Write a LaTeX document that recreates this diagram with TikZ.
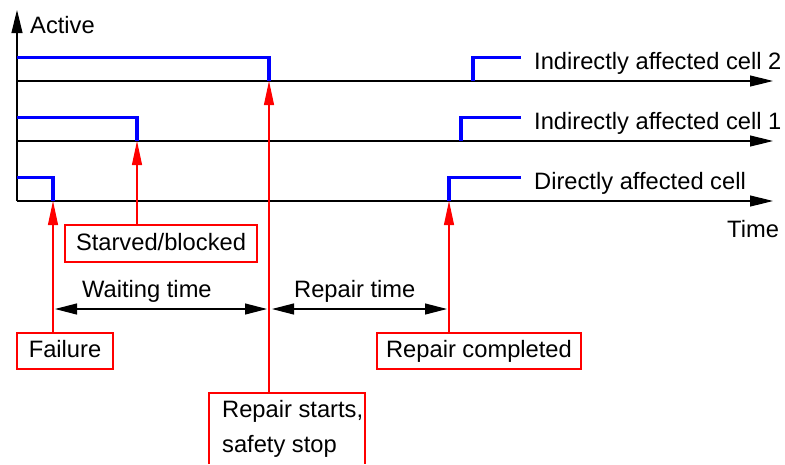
\documentclass[tikz,border=0pt]{standalone}
\usepackage{fontspec}
\setmainfont{Liberation Sans}
\usetikzlibrary{arrows.meta}
\begin{document}
\begin{tikzpicture}[x=1pt,y=-1pt,
  every node/.style={font=\fontsize{23.7}{28}\selectfont, inner sep=0pt},
  axis/.style={black, line width=1.1pt, -{Triangle[length=23pt,width=11pt]}},
  sig/.style={blue, line width=3.2pt, line join=miter},
  evt/.style={red, line width=1.1pt, -{Triangle[length=24pt,width=10pt]}},
  boxline/.style={draw=red, line width=1.3pt},
  redbox/.style={boxline, rectangle, inner sep=0pt, text height=17pt, text depth=4pt},
  dim/.style={black, line width=1.1pt, {Triangle[length=22pt,width=11pt]}-{Triangle[length=22pt,width=11pt]}},
  lbl/.style={anchor=base west}
]
\useasboundingbox (0,0) rectangle (785,464);

% axes
\coordinate (O) at (17,201);
\coordinate (Ytop) at (17,10);
\coordinate (a2s) at (17,81);  \coordinate (a2e) at (773,81);
\coordinate (a1s) at (17,141); \coordinate (a1e) at (773,141);
\coordinate (a0s) at (17,201); \coordinate (a0e) at (773,201);
\draw[axis] (O) -- (Ytop);
\draw[axis] (a2s) -- (a2e);
\draw[axis] (a1s) -- (a1e);
\draw[axis] (a0s) -- (a0e);

% event points
\coordinate (f) at (53,201);
\coordinate (sbk) at (137,141);
\coordinate (rs) at (269,81);
\coordinate (rc) at (449,201);
\coordinate (u1) at (461,141);
\coordinate (u2) at (473,81);
\coordinate (h2) at (17,57.5);
\coordinate (h1) at (17,117.5);
\coordinate (h0) at (17,177.5);
\coordinate (e2) at (521,57.5);
\coordinate (e1) at (521,117.5);
\coordinate (e0) at (521,177.5);

% signals
\draw[sig] (h2) -| (rs);
\draw[sig] (u2) |- (e2);
\draw[sig] (h1) -| (sbk);
\draw[sig] (u1) |- (e1);
\draw[sig] (h0) -| (f);
\draw[sig] (rc) |- (e0);

% labels
\node[lbl] (active) at (30,33) {Active};
\node[lbl] (l2) at (534,69) {Indirectly affected cell 2};
\node[lbl] (l1) at (534,129) {Indirectly affected cell 1};
\node[lbl] (l0) at (534,189) {Directly affected cell};
\node[lbl] (time) at (727,237) {Time};

% event boxes
\node[redbox, minimum width=192pt, minimum height=37pt] (sb) at (161,243.5) {Starved/blocked};
\node[redbox, minimum width=96pt, minimum height=36pt] (fb) at (65,351) {Failure};
\node[redbox, minimum width=204pt, minimum height=36pt] (rcb) at (479,351) {Repair completed};
\coordinate (rsbl) at (209,464);
\coordinate (rsbtl) at (209,393);
\coordinate (rsbtr) at (365,393);
\coordinate (rsbr) at (365,464);
\draw[boxline] (rsbl) -- (rsbtl) -- (rsbtr) -- (rsbr);
\node[lbl] (rst1) at (222,417) {Repair starts,};
\node[lbl] (rst2) at (222,452) {safety stop};

% event arrows
\draw[evt] (f |- fb.north) -- (f);
\draw[evt] (sbk |- sb.north) -- (sbk);
\draw[evt] (rs |- rsbtl) -- (rs);
\draw[evt] (rc |- rcb.north) -- (rc);

% durations
\coordinate (w1) at (55,309); \coordinate (w2) at (267,309);
\coordinate (r1) at (272,309); \coordinate (r2) at (447,309);
\draw[dim] (w1) -- (w2);
\draw[dim] (r1) -- (r2);
\node[lbl] (wt) at (82,297) {Waiting time};
\node[lbl] (rt) at (294,297) {Repair time};
\end{tikzpicture}
\end{document}
